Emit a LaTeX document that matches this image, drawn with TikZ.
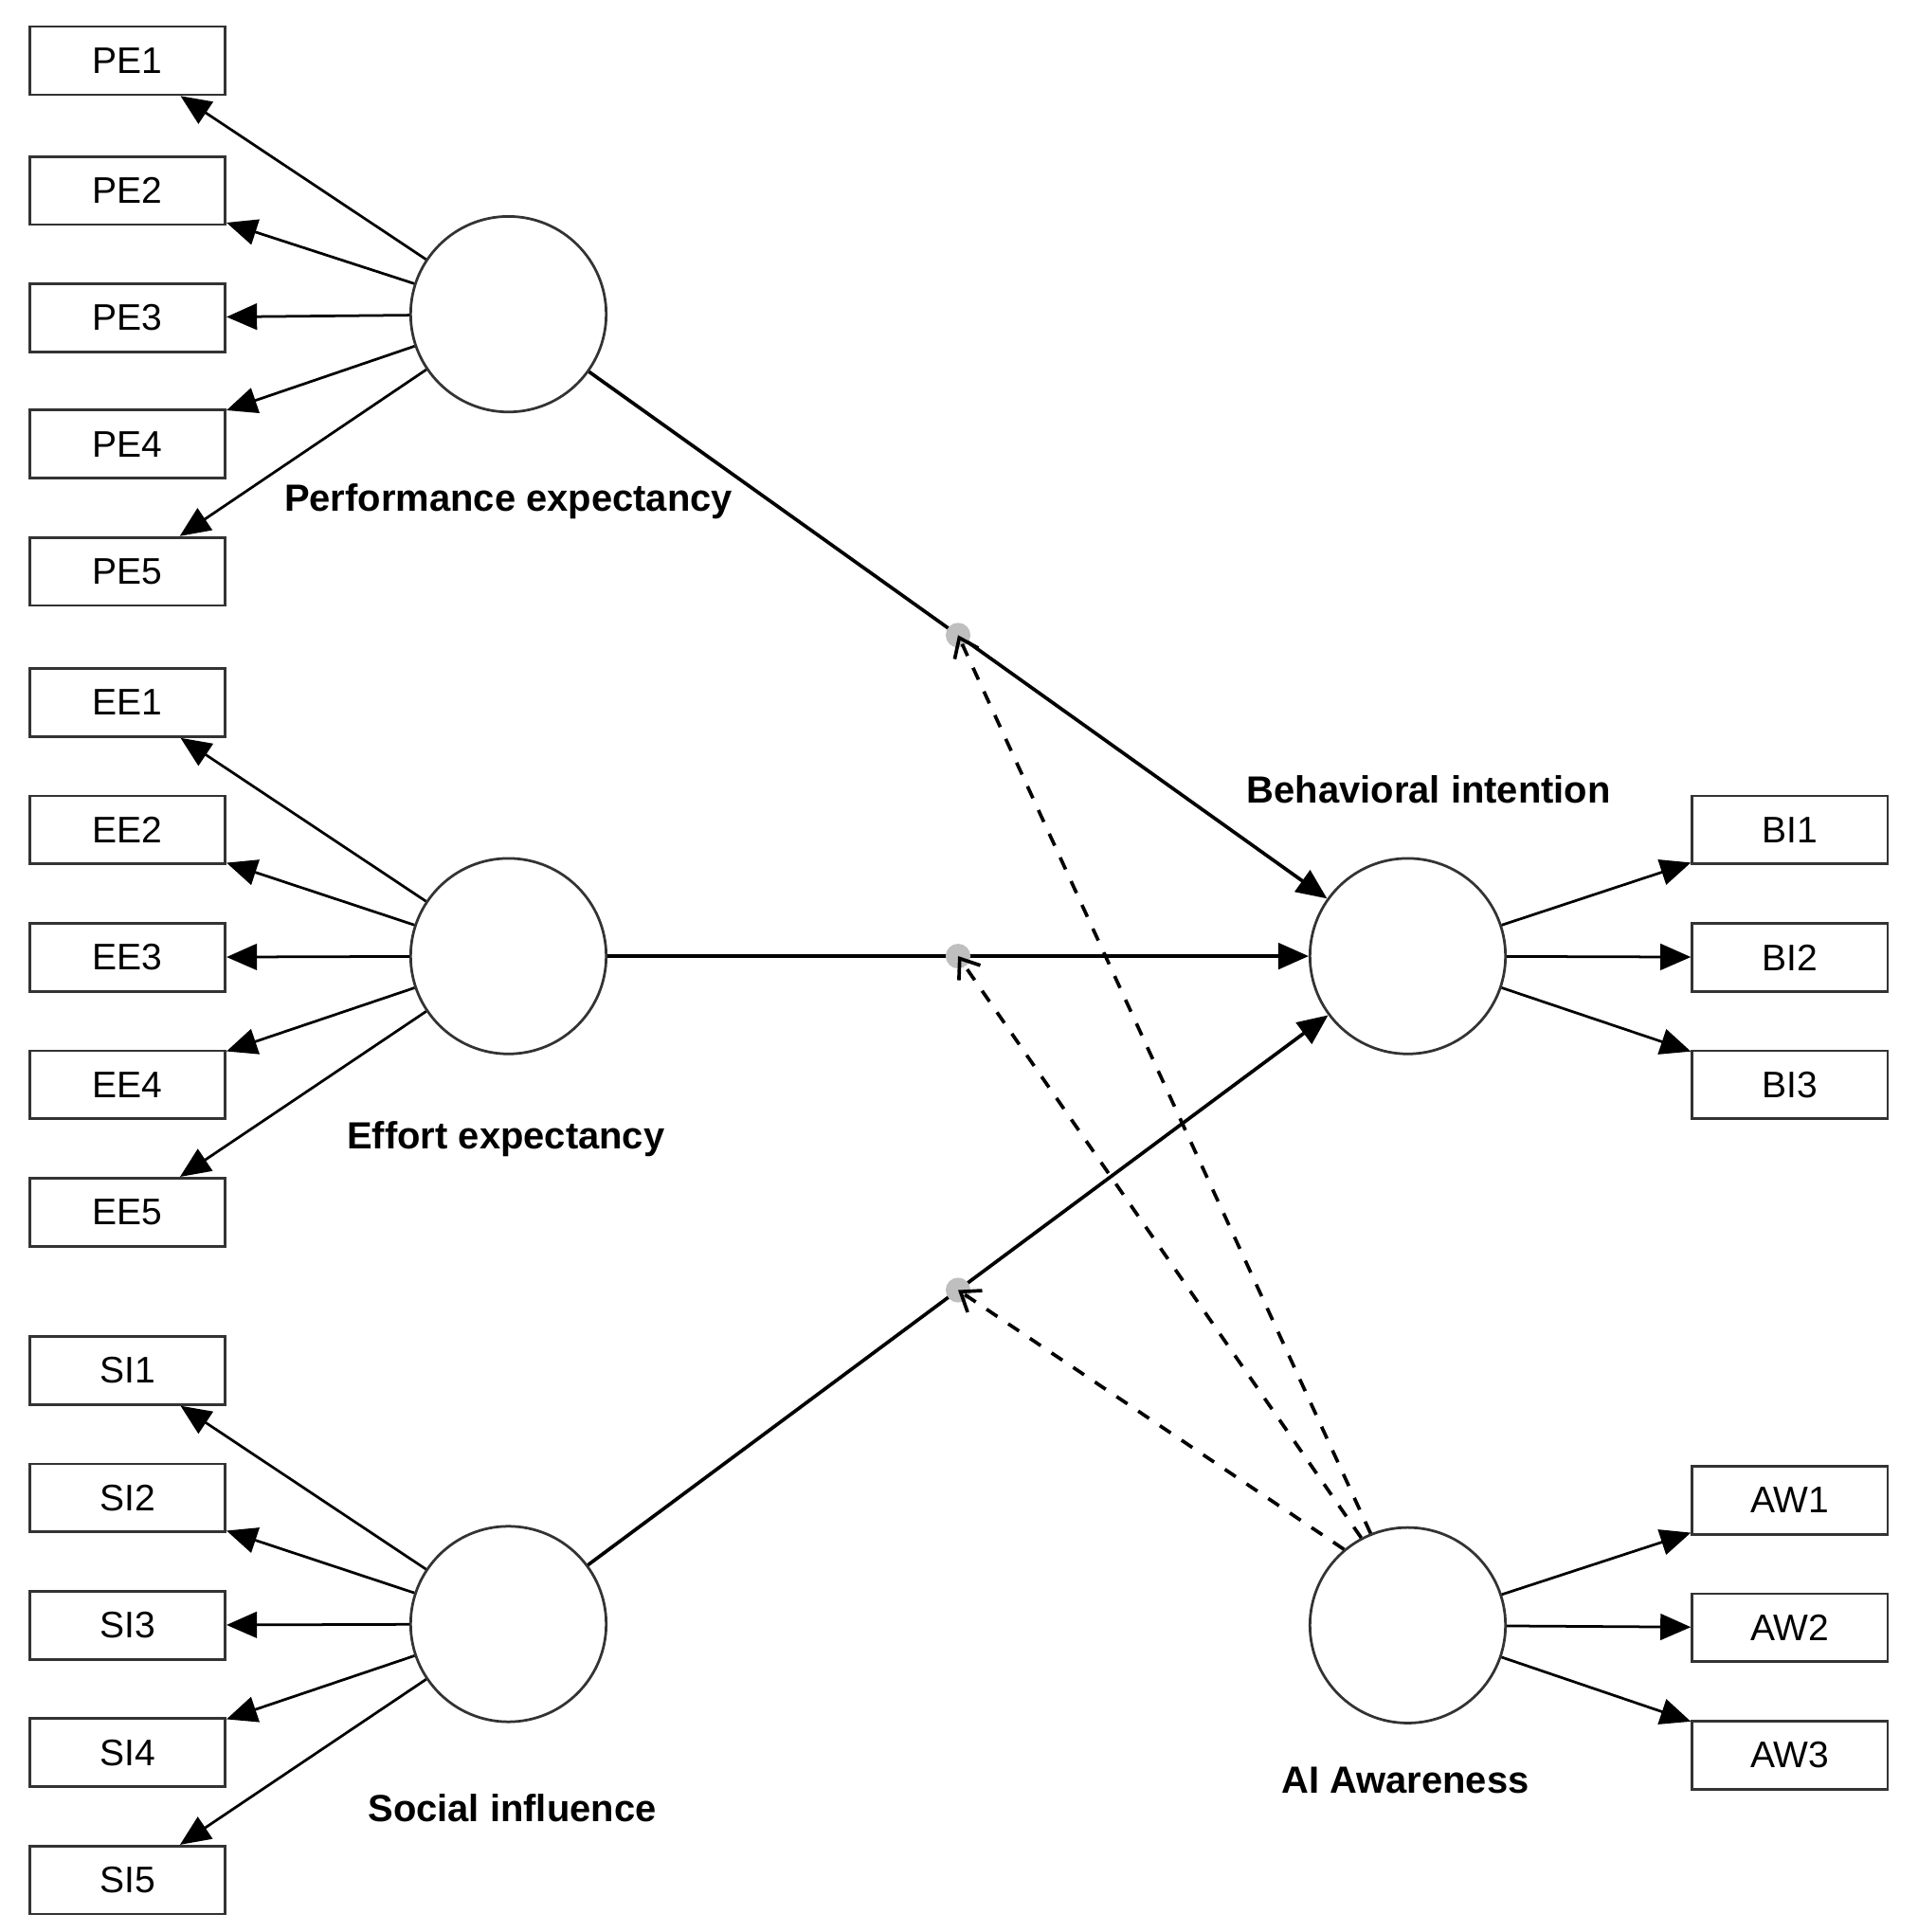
\documentclass[tikz,border=0pt]{standalone}
\usepackage{fontspec}
\setmainfont{Liberation Sans}
\usetikzlibrary{arrows.meta,positioning}
\tikzset{
    % arrow tip
    >={Triangle[length=7pt,width=6pt]},
    % indicator boxes
    item/.style={
           rectangle,
           draw=black!80, semithick,
           fill=white,
           minimum width=1.58cm,
           minimum height=0.55cm,
           font=\fontsize{8.5}{10}\selectfont},
    % latent variables
    latent/.style={
           circle,
           draw=black!80, semithick,
           minimum size=1.58cm},
    lbl/.style={font=\bfseries\fontsize{8.7}{10}\selectfont},
    load/.style={->, semithick},
    path/.style={->, thick},
    moder/.style={-{Straight Barb[length=4pt,width=6pt]}, thick, dashed},
    dot/.style={circle, fill=black!25, inner sep=0pt, minimum size=0.2cm}
}
\begin{document}
\begin{tikzpicture}[x=0.01cm,y=-0.01cm]
\useasboundingbox (0,0) rectangle (1550,1562);

% latent variables
\node[latent](PE) at (411,254){};
\node[latent](EE) at (411,773){};
\node[latent](SI) at (411,1313){};
\node[latent](BI) at (1138,773){};
\node[latent](AW) at (1138,1314){};

\node[lbl] at (411,405){Performance expectancy};
\node[lbl] at (409,921){Effort expectancy};
\node[lbl] at (414,1462){Social influence};
\node[lbl] at (1155,638){Behavioral intention};
\node[lbl] at (1136,1439){AI Awareness};

% indicators
\foreach \i/\y in {1/49,2/154,3/257,4/359,5/462}{
  \node[item](PE\i) at (103,\y){PE\i};
  \draw[load] (PE) -- (PE\i);
}
\foreach \i/\y in {1/568,2/671,3/774,4/877,5/980}{
  \node[item](EE\i) at (103,\y){EE\i};
  \draw[load] (EE) -- (EE\i);
}
\foreach \i/\y in {1/1108,2/1211,3/1314,4/1417,5/1520}{
  \node[item](SI\i) at (103,\y){SI\i};
  \draw[load] (SI) -- (SI\i);
}
\foreach \i/\y in {1/671,2/774,3/877}{
  \node[item](BI\i) at (1447,\y){BI\i};
  \draw[load] (BI) -- (BI\i);
}
\foreach \i/\y in {1/1213,2/1316,3/1419}{
  \node[item](AW\i) at (1447,\y){AW\i};
  \draw[load] (AW) -- (AW\i);
}

% structural paths
\draw[path] (PE) -- coordinate[pos=0.5](m1) (BI);
\draw[path] (EE) -- coordinate[pos=0.5](m2) (BI);
\draw[path] (SI) -- coordinate[pos=0.5](m3) (BI);
\node[dot](d1) at (m1){};
\node[dot](d2) at (m2){};
\node[dot](d3) at (m3){};

% moderation
\draw[moder] (AW.112) -- (d1.center);
\draw[moder] (AW.118) -- (d2.center);
\draw[moder] (AW.130) -- (d3.center);

\end{tikzpicture}
\end{document}
